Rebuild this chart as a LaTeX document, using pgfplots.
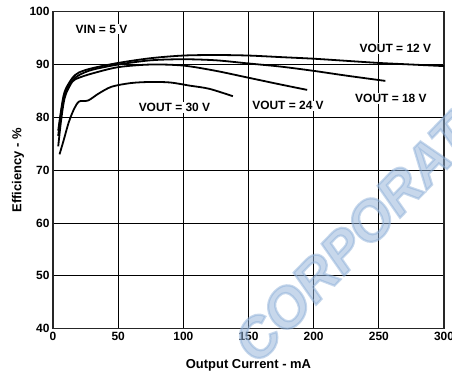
\documentclass[border=0pt]{standalone}
\usepackage{pgfplots}
\pgfplotsset{compat=1.18}
\usepackage{fontspec}
\setmainfont{Liberation Sans}
\newfontfamily\wmfont{Liberation Sans Bold Italic}[FakeBold=4]
\definecolor{wm}{HTML}{8FB0D8}
\begin{document}
\begin{tikzpicture}
\begin{axis}[
 scale only axis, width=391bp, height=317bp,
 xmin=0,xmax=300,ymin=40,ymax=100,
 xtick={0,50,...,300}, ytick={40,50,...,100},
 grid=major, grid style={black, line width=1bp},
 axis line style={black!85, line width=1.4bp},
 tick style={draw=none},
 ticklabel style={font=\bfseries\fontsize{12}{14}\selectfont},
 /pgf/number format/assume math mode=true,
 xlabel={Output Current - mA}, ylabel={Efficiency - \%},
 label style={font=\bfseries\fontsize{13}{15}\selectfont},
 xlabel style={at={(rel axis cs:0.5,-0.1167)}, anchor=center},
 ylabel style={at={(rel axis cs:-0.0895,0.5)}, anchor=center},
 clip=false,
]
\node[rotate=46, anchor=west, inner sep=0pt, text=wm, text opacity=0.5]
  at (axis cs:146,35.5) {\wmfont\fontsize{56}{56}\selectfont CORPORATION};

% VOUT = 12 V
\addplot[black, line width=1.8bp, smooth] coordinates {
(4,77.5)(6,81)(8,84)(10,85.5)(15,87.5)(20,88.5)(30,89.3)(50,90.3)(75,91.2)(100,91.7)(125,91.8)(150,91.7)(175,91.4)(200,91.1)(225,90.7)(250,90.3)(275,90.0)(300,89.7)};
% VOUT = 18 V
\addplot[black, line width=1.8bp, smooth] coordinates {
(4,76.5)(6,80.5)(8,83.5)(10,85)(15,87)(20,88)(30,89)(50,90)(75,90.8)(100,91.0)(125,90.8)(150,90.2)(175,89.6)(200,88.8)(225,87.9)(255,86.9)};
% VOUT = 24 V
\addplot[black, line width=1.8bp, smooth] coordinates {
(4,74.5)(6,79)(8,82.5)(10,84.5)(15,86.8)(20,87.5)(30,88.3)(50,89.5)(75,90.0)(100,89.8)(125,88.8)(150,87.5)(175,86.2)(195,85.2)};
% VOUT = 30 V
\addplot[black, line width=1.8bp, smooth] coordinates {
(5,73)(8,75.5)(12,79)(16,81.5)(20,83)(27,83.2)(35,84.5)(45,85.8)(60,86.5)(75,86.7)(90,86.6)(105,86)(120,85.4)(138,84)};

\tikzset{lab/.style={fill=white, inner sep=1pt, font=\bfseries\fontsize{12}{14}\selectfont}}
\node[lab] at (axis cs:37.2,96.7) {VIN = 5 V};
\node[lab] at (axis cs:93.2,81.9) {VOUT = 30 V};
\node[lab] at (axis cs:180.3,82.2) {VOUT = 24 V};
\node[lab] at (axis cs:259.3,83.6) {VOUT = 18 V};
\node[lab] at (axis cs:262.7,93.0) {VOUT = 12 V};
\end{axis}
\pgfresetboundingbox
\useasboundingbox ([shift={(-53bp,-43bp)}]current axis.south west) rectangle ([shift={(8bp,11.7bp)}]current axis.north east);
\end{tikzpicture}
\end{document}
